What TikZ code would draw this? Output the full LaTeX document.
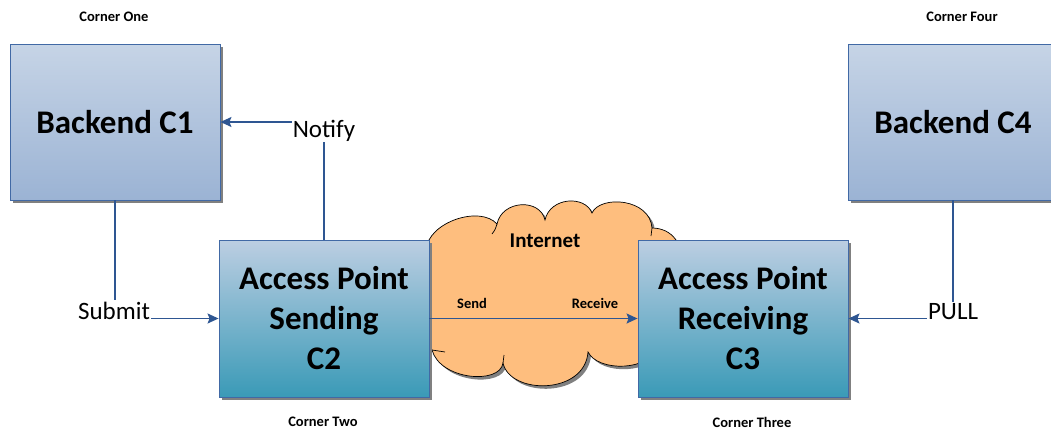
\documentclass[tikz,border=0pt]{standalone}
\usepackage{fontspec}
\setmainfont{Carlito}
\usetikzlibrary{shadows,arrows.meta}
\definecolor{boxline}{RGB}{65,105,165}
\definecolor{wire}{RGB}{46,86,146}
\definecolor{bkTop}{RGB}{198,212,230}
\definecolor{bkBot}{RGB}{155,179,212}
\definecolor{apTop}{RGB}{188,206,226}
\definecolor{apBot}{RGB}{58,154,183}
\definecolor{cloudfill}{RGB}{254,190,126}
% outline of the internet cloud (pixel coordinates)
\def\cloudpath{(426,250) .. controls (428,222) and (480,205) .. (497,224)
    .. controls (502,200) and (540,198) .. (545,220)
    .. controls (550,197) and (585,195) .. (592,213)
    .. controls (600,195) and (650,198) .. (652,228)
    .. controls (672,228) and (686,245) .. (678,268)
    .. controls (692,295) and (690,330) .. (660,345)
    .. controls (650,372) and (598,372) .. (588,352)
    .. controls (585,395) and (510,395) .. (503,363)
    .. controls (500,385) and (440,380) .. (432,350)
    .. controls (415,320) and (415,270) .. cycle}
\begin{document}
\begin{tikzpicture}[x=1pt,y=-1pt,
        shade/.style={drop shadow={shadow xshift=3pt,shadow yshift=-3pt,fill=black!50,opacity=1}},
        backend/.style={shade, draw=boxline, line width=0.9pt, top color=bkTop, bottom color=bkBot,
            minimum width=210pt, minimum height=156pt, align=center,
            font=\fontsize{33}{40}\selectfont\bfseries},
        accesspt/.style={backend, top color=apTop, bottom color=apBot, minimum height=157pt},
        corner/.style={font=\fontsize{14.5}{16}\selectfont\bfseries},
        tag/.style={font=\fontsize{25}{28}\selectfont, inner sep=1pt},
        wire/.style={draw=wire, line width=1.3pt},
        arrow/.style={wire, -{Stealth[length=11pt,width=10pt,inset=2pt]}}]
        \useasboundingbox (0,0) rectangle (1051,429);
        % the internet cloud, behind the access points
        \fill[black!50, shift={(3,3)}] \cloudpath;
        \draw[line width=0.7pt, fill=cloudfill] \cloudpath;
        \draw[line width=0.7pt] (497,224) .. controls (495,230) .. (492,234);
        \draw[line width=0.7pt] (652,228) -- (651,236);
        \draw[line width=0.7pt] (503,363) -- (504,355);
        \draw[line width=0.7pt] (432,350) -- (445,352);
        \node[font=\fontsize{21}{24}\selectfont\bfseries] (netlabel) at (545,241) {Internet};
        % corners
        \node[backend] (c1) at (115,122) {Backend C1};
        \node[backend] (c4) at (953,122) {Backend C4};
        \node[accesspt] (c2) at (324,318.5) {Access Point\\Sending\\C2};
        \node[accesspt] (c3) at (743,318.5) {Access Point\\Receiving\\C3};
        \node[corner] (one) at (114,17) {Corner One};
        \node[corner] (four) at (962,17) {Corner Four};
        \node[corner] (two) at (323,422) {Corner Two};
        \node[corner] (three) at (752,422) {Corner Three};
        % message labels
        \node[tag, anchor=base] (submit) at (114,319) {Submit};
        \node[tag, anchor=base] (notify) at (324,137) {Notify};
        \node[tag, anchor=base] (pull) at (953,319) {PULL};
        \node[corner] (send) at (472,303) {Send};
        \node[corner] (receive) at (595,303) {Receive};
        % connectors
        \draw[wire] (c1.south) -- (c1.south |- submit.north);
        \draw[arrow] (submit.east |- c2) -- (c2.west);
        \draw[wire] (c2.north) -- (c2.north |- notify.south);
        \draw[arrow] (notify.west |- c1) -- (c1.east);
        \draw[arrow] (c2.east) -- (c3.west);
        \draw[wire] (c4.south) -- (c4.south |- pull.north);
        \draw[arrow] (pull.west |- c3) -- (c3.east);
    \end{tikzpicture}
\end{document}
